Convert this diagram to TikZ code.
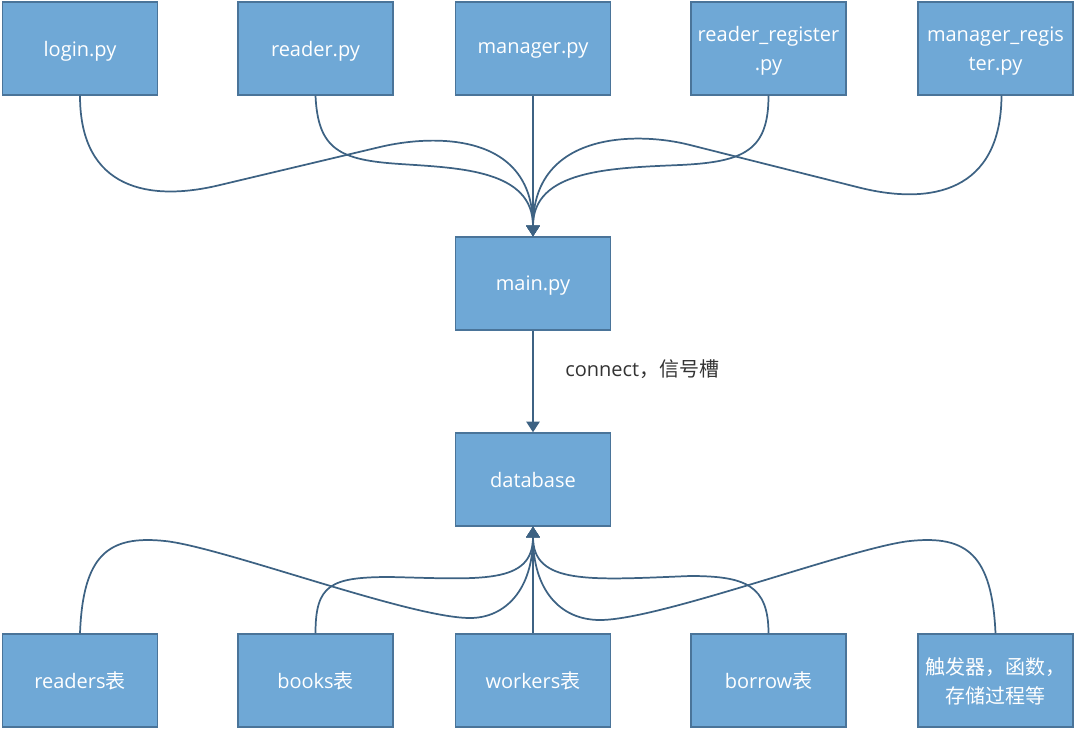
\documentclass[tikz,border=0pt]{standalone}
\usepackage{fontspec}
\setmainfont{Open Sans}
\newfontfamily\cjk{Noto Sans CJK SC}
\usetikzlibrary{arrows.meta,calc}
\definecolor{boxfill}{HTML}{6FA8D6}
\definecolor{boxdraw}{HTML}{4A7499}
\definecolor{linkc}{HTML}{3D6283}
\definecolor{labelc}{HTML}{333333}
\begin{document}
\begin{tikzpicture}[x=0.75pt,y=-0.75pt,
  box/.style={rectangle,draw=boxdraw,fill=boxfill,line width=1.1pt,
    minimum width=116.5pt,minimum height=69.75pt,inner sep=2pt,text depth=0pt,
    text=white,align=center,font=\fontsize{15pt}{22pt}\selectfont},
  link/.style={draw=linkc,line width=1.3pt,-{Triangle[width=10pt,length=8pt]}},
  lbl/.style={text=labelc,inner sep=0pt,font=\fontsize{15pt}{22pt}\selectfont}]
\useasboundingbox (0,0) rectangle (1075,729);
% top row
\node[box] (login) at (80,48.5) {login.py};
\node[box] (reader) at (315.5,48.5) {reader.py};
\node[box] (manager) at (533,48.5) {manager.py};
\node[box] (rreg) at (768.5,48.5) {reader\_register\\.py};
\node[box] (mreg) at (995.5,48.5) {manager\_regis\\ter.py};
% middle
\node[box] (main) at (533,283.5) {main.py};
\node[box] (db) at (533,479.5) {database};
% bottom row
\node[box] (readers) at (80,680.5) {readers{\cjk 表}};
\node[box] (books) at (315.5,680.5) {books{\cjk 表}};
\node[box] (workers) at (533,680.5) {workers{\cjk 表}};
\node[box] (borrow) at (768.5,680.5) {borrow{\cjk 表}};
\node[box] (trig) at (995.5,680.5) {{\cjk 触发器，函数，}\\{\cjk 存储过程等}};
% label
\node[lbl,anchor=base west] (conn) at (565,376) {connect{\cjk ，信号槽}};
% top connectors
\draw[link] (login.south) .. controls (80,190) and (150,202) .. (220,185)
  -- (380,147) .. controls (430,135) and (533,130) .. (main.north);
\draw[link] (reader.south) .. controls (318,150) and (340,160) .. (400,164)
  .. controls (460,168) and (533,170) .. (main.north);
\draw[link] (manager) -- (main);
\draw[link] (rreg.south) .. controls (768.5,150) and (745,162) .. (680,165)
  .. controls (610,168) and (533,170) .. (main.north);
\draw[link] ([xshift=4.5pt]mreg.south) .. controls (1001,192) and (931,205) .. (861,188)
  -- (690,145) .. controls (640,132) and (533,130) .. (main.north);
% middle connector
\draw[link] (main) -- (db);
% bottom connectors
\draw[link] (readers.north) .. controls (83,555) and (108,535) .. (165,541)
  .. controls (222,547) and (410,618) .. (470,618)
  .. controls (505,618) and (533,590) .. (db.south);
\draw[link] (books.north) .. controls (315.5,585) and (330,577) .. (390,577)
  .. controls (480,579) and (533,585) .. (db.south);
\draw[link] (workers) -- (db);
\draw[link] (borrow.north) .. controls (768.5,585) and (745,576) .. (690,576)
  .. controls (590,580) and (533,585) .. (db.south);
\draw[link] (trig.north) .. controls (992,555) and (967,535) .. (910,541)
  .. controls (853,547) and (660,620) .. (600,620)
  .. controls (560,620) and (533,590) .. (db.south);
\end{tikzpicture}
\end{document}
